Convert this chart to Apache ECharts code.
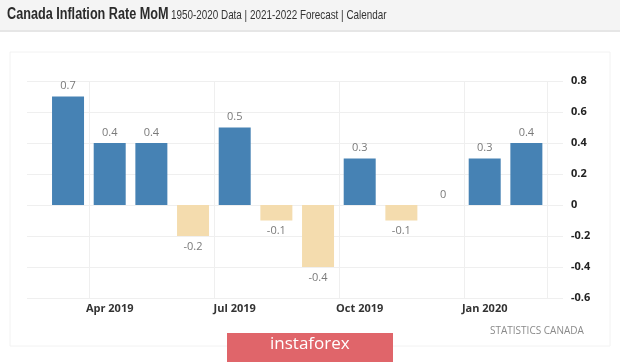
<!DOCTYPE html>
<html><head><meta charset="utf-8">
<script src="https://cdn.jsdelivr.net/npm/echarts@6/dist/echarts.min.js"></script>
<style>html,body{margin:0;padding:0;background:#fff;}#c{width:620px;height:362px;}</style>
</head><body><div id="c"></div>
<script>
var categories = ['Mar 2019','Apr 2019','May 2019','Jun 2019','Jul 2019','Aug 2019','Sep 2019','Oct 2019','Nov 2019','Dec 2019','Jan 2020','Feb 2020'];
var values = [0.7, 0.4, 0.4, -0.2, 0.5, -0.1, -0.4, 0.3, -0.1, 0, 0.3, 0.4];
var shownLabels = ['Apr 2019','Jul 2019','Oct 2019','Jan 2020'];
var yTicks = [0.8, 0.6, 0.4, 0.2, 0, -0.2, -0.4, -0.6];

var chart = echarts.init(document.getElementById('c'), null, {renderer:'canvas'});
var yMin = Math.min.apply(null, yTicks), yMax = Math.max.apply(null, yTicks);
var option = {
  animation:false,
  graphic:[
    {type:'rect', shape:{x:0,y:0,width:620,height:30}, style:{fill:'#f4f4f4'}, z:-1},
    {type:'rect', shape:{x:0,y:30,width:620,height:2}, style:{fill:'#e6e6e6'}, z:-1},
    {type:'rect', shape:{x:10,y:52,width:600,height:294}, style:{fill:'none', stroke:'#f2f2f2', lineWidth:1}, z:-1},
    {type:'text', x:7, y:7, scaleX:0.79, style:{text:'Canada Inflation Rate MoM', font:'bold 16px "Liberation Sans", Arial, sans-serif', fill:'#2b2b2b'}},
    {type:'text', x:171, y:9, scaleX:0.76, style:{text:'1950-2020 Data | 2021-2022 Forecast | Calendar', font:'13px "Liberation Sans", Arial, sans-serif', fill:'#333'}},
    {type:'text', left:490, top:326, style:{text:'STATISTICS CANADA', font:'10px "Open Sans", sans-serif', fill:'#8a8a8a'}},
    {type:'rect', shape:{x:227,y:333,width:166,height:29}, style:{fill:'#e0656a'}},
    {type:'text', left:270, top:336, style:{text:'instaforex', font:'17px "Open Sans", sans-serif', fill:'#ffffff'}}
  ],
  grid:[
    {left:47.2, right:72.8, top:81, bottom:64},
    {left:27, right:57, top:81, bottom:64}
  ],
  xAxis:[
    {type:'category', gridIndex:0, data:categories,
     axisLine:{show:false}, axisTick:{show:false},
     axisLabel:{interval:0, formatter:function(v){return shownLabels.indexOf(v)>=0?v:'';}, color:'#333', fontSize:11, fontWeight:'bold', fontFamily:'"Open Sans", sans-serif', margin:5},
     splitLine:{show:true, interval:function(i,v){return shownLabels.indexOf(v)>=0;}, lineStyle:{color:'#efefef'}}
    },
    {type:'value', gridIndex:1, show:false, min:0, max:1}
  ],
  yAxis:[
    {type:'value', gridIndex:0, min:yMin, max:yMax, interval:0.2, show:false, splitLine:{show:false}},
    {type:'value', gridIndex:1, min:yMin, max:yMax, interval:0.2, position:'right',
     axisLine:{show:false}, axisTick:{show:false},
     axisLabel:{color:'#222', fontSize:11, fontWeight:'bold', fontFamily:'"Open Sans", sans-serif', margin:8,
       formatter:function(v){return Math.abs(v)<1e-9?'0':(Math.round(v*10)/10).toString();}},
     splitLine:{show:true, lineStyle:{color:'#efefef'}}}
  ],
  series:[{
    type:'bar', xAxisIndex:0, yAxisIndex:0, barWidth:32,
    data: values.map(function(v){
      return {value:v,
        itemStyle:{color: v<0 ? '#f4dcae' : '#4682b4'},
        label:{show:true, position: v<0 ? 'bottom' : 'top', distance:5,
          formatter:function(p){return p.value===0?'0':String(p.value);},
          color:'#7a7a7a', fontSize:11, fontFamily:'"Open Sans", sans-serif'}};
    })
  }]
};
chart.setOption(option);
</script></body></html>
